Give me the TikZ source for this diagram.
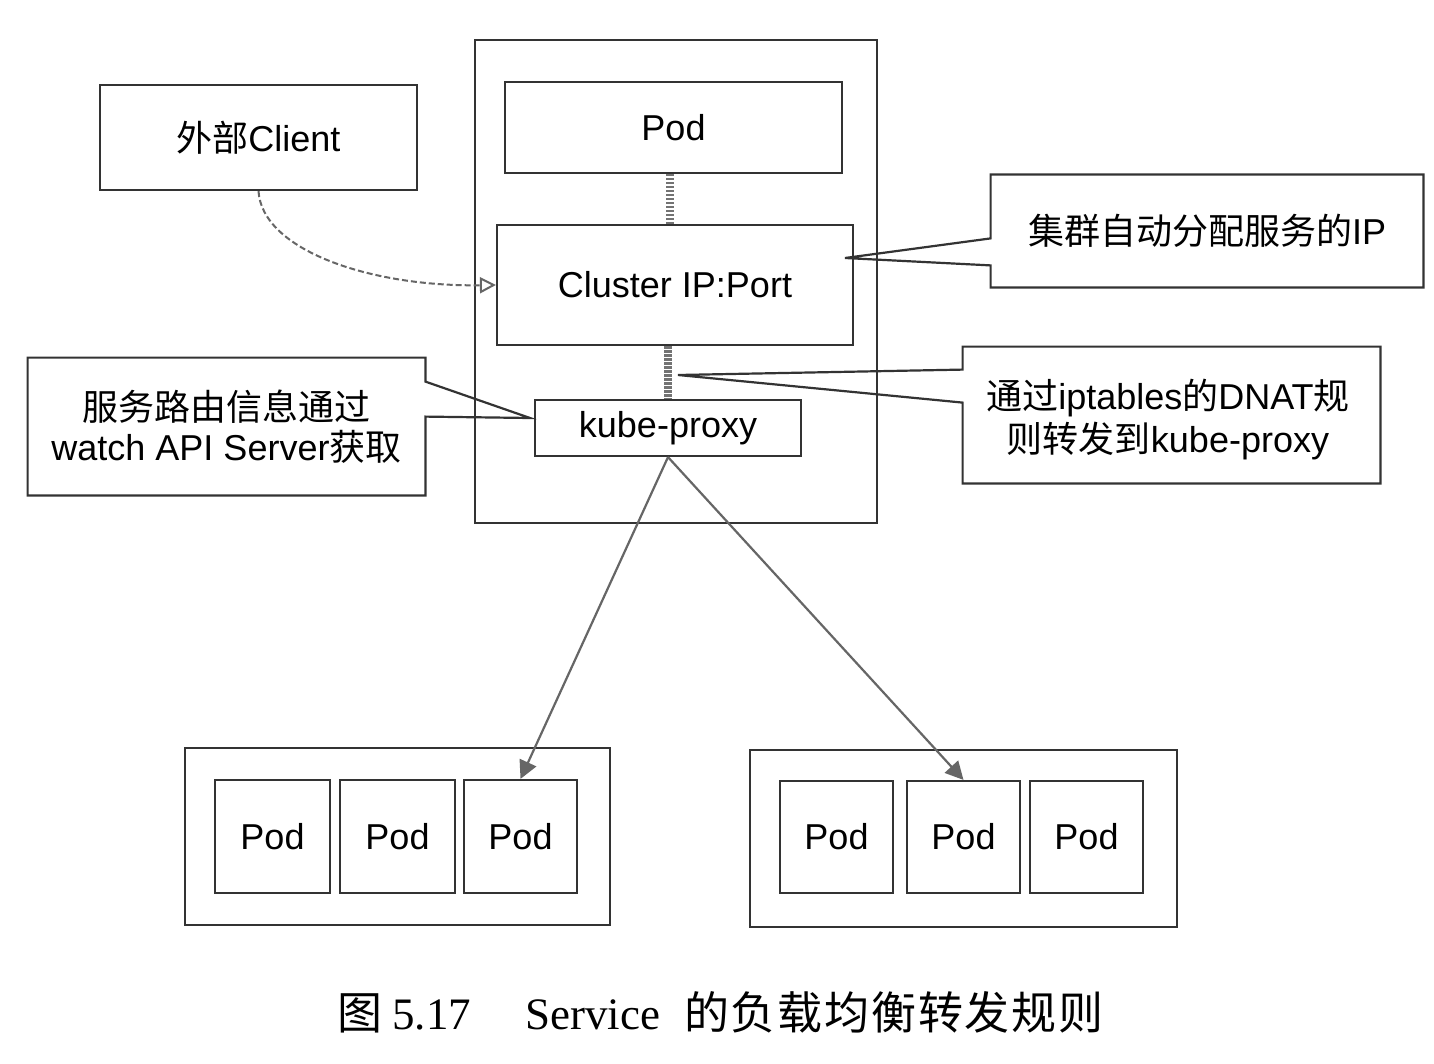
\documentclass[tikz,border=0pt]{standalone}
\usepackage{fontspec}
\setmainfont{Liberation Sans}
\newfontfamily\cjk{Noto Sans CJK SC}
\newfontfamily\cjkcap[LetterSpace=4]{Noto Sans CJK SC}
\newfontfamily\capserif{Liberation Serif}
\usetikzlibrary{arrows.meta,calc}
\newcommand\zh[1]{{\cjk #1}}
\begin{document}
\begin{tikzpicture}[x=0.5pt,y=-0.5pt,
  box/.style={draw=black!80, line width=1.1pt, inner sep=0pt, align=center,
              font=\fontsize{18}{21.5}\selectfont},
  callout/.style={inner sep=0pt, align=center, font=\fontsize{18}{21.5}\selectfont},
  outline/.style={draw=black!80, line width=1.1pt, line join=miter},
  link/.style={draw=black!55, line width=4pt, dash pattern=on 1.2pt off 0.8pt},
  flow/.style={draw=black!60, line width=1.1pt, -{Triangle[length=9pt,width=9pt]}},
  clientflow/.style={draw=black!60, line width=1pt, dash pattern=on 3pt off 1.5pt,
              -{Triangle[open,length=8pt,width=8pt]}}]
\fill[white] (0,0) rectangle (1434,1064);
\useasboundingbox (0,0) rectangle (1434,1064);

% central box and its contents
\node[box, minimum width=201pt, minimum height=241.5pt] (outer) at (676,281.5) {};
\node[box, minimum width=168.5pt, minimum height=45.5pt] (podtop) at (673.5,127.5) {Pod};
\node[box, minimum width=178pt, minimum height=60pt] (cluster) at (675,285) {Cluster IP:Port};
\node[box, minimum width=133pt, minimum height=28pt] (kube) at (668,428) {kube-proxy};

% external client
\node[box, minimum width=158.5pt, minimum height=52.5pt] (client) at (258.5,137.5) {\zh{外部}Client};

% callout: cluster IP
\node[callout, minimum width=216pt, minimum height=56pt] (ipnote) at (1207,231) {\zh{集群自动分配服务的}IP};
\coordinate (iptip) at (845,258);
\draw[outline] (ipnote.north west) -- (ipnote.north east) -- (ipnote.south east)
  -- (ipnote.south west) -- ($(ipnote.south west)+(0,-22)$) -- (iptip)
  -- ($(ipnote.south west)+(0,-49)$) -- cycle;

% callout: DNAT
\node[callout, minimum width=208.5pt, minimum height=68pt, text depth=0pt] (dnat) at (1171.5,415) {};
\node[callout, font=\fontsize{18}{21.5}\selectfont] (dnattext) at (1168,420)
  {\zh{通过}iptables\zh{的}DNAT\zh{规}\\\zh{则转发到}kube-proxy};
\coordinate (dnattip) at (678,375);
\draw[outline] (dnat.north west) -- (dnat.north east) -- (dnat.south east)
  -- (dnat.south west) -- ($(dnat.north west)+(0,56)$) -- (dnattip)
  -- ($(dnat.north west)+(0,23)$) -- cycle;

% callout: watch API server
\node[callout, minimum width=198.5pt, minimum height=68.5pt, font=\fontsize{18}{20}\selectfont] (watch) at (226.5,426.5)
  {\zh{服务路由信息通过}\\watch API Server\zh{获取}};
\coordinate (watchtip) at (530,418);
\draw[outline] (watch.north west) -- (watch.north east) -- ($(watch.north east)+(0,24)$)
  -- (watchtip) -- ($(watch.north east)+(0,59)$) -- (watch.south east)
  -- (watch.south west) -- cycle;

% bottom groups
\node[box, minimum width=212.5pt, minimum height=88.5pt] (lgroup) at (397.5,836.5) {};
\node[box, minimum width=57.5pt, minimum height=56.5pt] (lp1) at (272.5,836.5) {Pod};
\node[box, minimum width=57.5pt, minimum height=56.5pt] (lp2) at (397.5,836.5) {Pod};
\node[box, minimum width=56.5pt, minimum height=56.5pt] (lp3) at (520.5,836.5) {Pod};

\node[box, minimum width=213.5pt, minimum height=88.5pt] (rgroup) at (963.5,838.5) {};
\node[box, minimum width=56.5pt, minimum height=56pt] (rp1) at (836.5,837) {Pod};
\node[box, minimum width=56.5pt, minimum height=56pt] (rp2) at (963.5,837) {Pod};
\node[box, minimum width=56.5pt, minimum height=56pt] (rp3) at (1086.5,837) {Pod};

% connectors
\draw[link] ([xshift=-1.75pt]podtop.south) -- ([xshift=-1.75pt]podtop.south |- cluster.north);
\draw[link] (cluster.south -| kube.north) -- (kube.north);
\draw[clientflow] (client.south) .. controls (262,250) and (370,287) .. (cluster.west);
\draw[flow] (kube.south) -- (lp3.north);
\draw[flow] (kube.south) -- (rp2.north);

% caption
\node[anchor=west, inner sep=0pt, font=\fontsize{22.5}{26}\selectfont] (caption) at (337,1012)
  {{\cjk 图}\hspace{5pt}{\capserif 5.17}\hspace{27pt}{\capserif Service}\hspace{12pt}{\cjkcap 的负载均衡转发规则}};
\end{tikzpicture}
\end{document}
